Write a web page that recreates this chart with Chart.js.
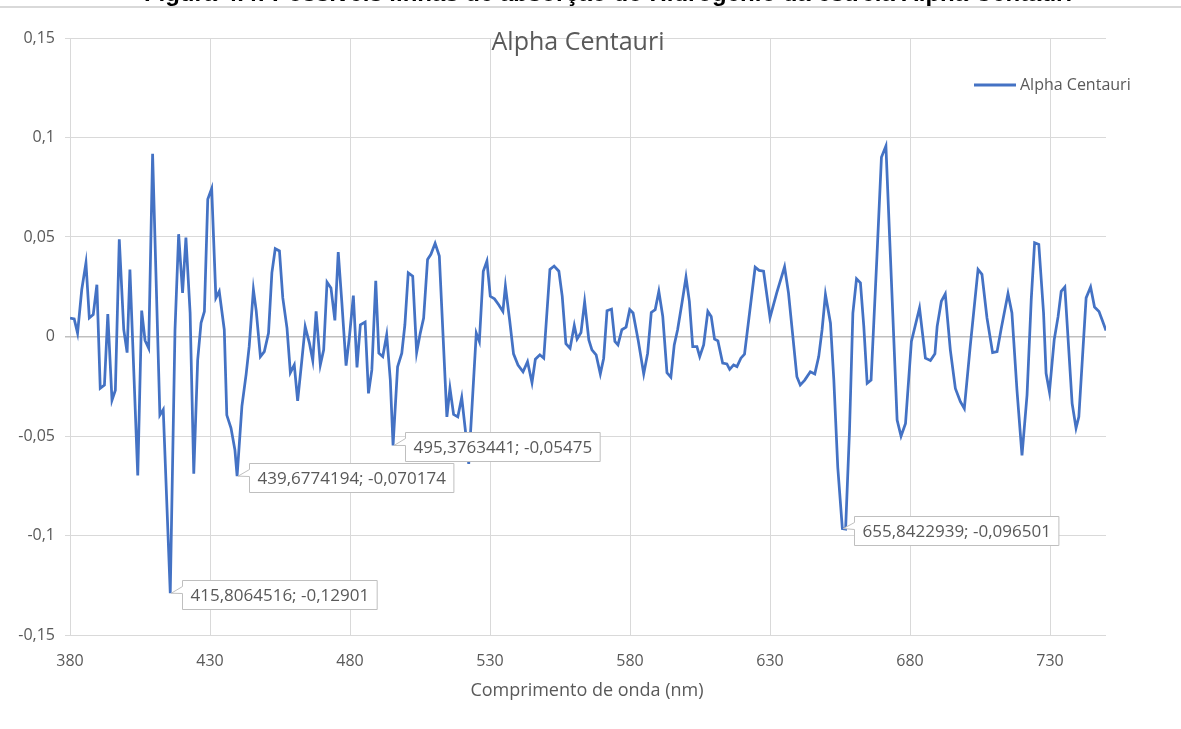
<!DOCTYPE html>
<html>
<head>
<meta charset="utf-8">
<script src="https://cdn.jsdelivr.net/npm/chart.js@4.4.0/dist/chart.umd.min.js"></script>
<style>
html, body { margin: 0; padding: 0; background: #fff; }
#wrap { position: relative; width: 1181px; height: 729px; }
</style>
</head>
<body>
<div id="wrap"><canvas id="spectrum_chart" width="1181" height="729"></canvas></div>
<script>
// wavelength (nm) and relative intensity
const wavelength = [
	380, 381.5, 382.7, 384.2, 385.7, 386.9, 388.3, 389.6, 390.8, 392.3,
	393.5, 395, 396.2, 397.6, 399.2, 400.4, 401.4, 404.2, 405.6, 406.8,
	408.1, 409.5, 412.1, 413.3, 415.8064516, 417.5, 418.8, 420.2, 421.4, 422.9,
	424.2, 425.6, 426.8, 428, 429.2, 430.6, 432.1, 433.3, 435.1, 436,
	437.5, 438.9, 439.6774194, 441.4, 442.9, 444, 445.5, 446.5, 448, 449.4,
	450.9, 452.1, 453.3, 454.8, 456, 457.5, 458.7, 460.1, 461.3, 462.7,
	464, 465.5, 466.7, 467.9, 469.4, 470.6, 471.8, 473.2, 474.6, 475.8,
	477.1, 478.6, 479.8, 481.2, 482.5, 483.7, 485.4, 486.6, 487.8, 489.2,
	490.3, 491.7, 493.1, 494.4, 495.3763441, 497, 498.5, 499.6, 500.8, 502.4,
	503.8, 505.1, 506.3, 507.7, 508.9, 510.4, 511.9, 514.6, 515.7, 517,
	518.5, 519.9, 521.2, 522.4, 525.1, 526.2, 527.6, 528.9, 530.1, 531.6,
	533.1, 534.6, 535.5, 537, 538.4, 540, 541.8, 543.4, 545, 546.2,
	547.8, 549.2, 551.4, 552.9, 554.6, 555.8, 557.1, 558.6, 560.1, 561.1,
	562.5, 563.8, 565.3, 566.4, 567.9, 569.4, 570.6, 571.8, 573.4, 574.6,
	575.7, 577.1, 578.6, 579.9, 581.1, 582.9, 584.9, 586.3, 587.6, 589,
	590.3, 591.7, 593.2, 594.6, 595.8, 597, 598.6, 600, 601.2, 602.4,
	603.9, 604.9, 606.3, 607.8, 609, 610.2, 611.4, 613.1, 614.6, 615.6,
	617, 618.2, 619.6, 620.9, 624.7, 626.1, 627.7, 630, 632.4, 635.2,
	636.6, 639.6, 640.8, 642.4, 644.4, 646, 647.4, 648.6, 649.8, 651.6,
	652.8, 654.2, 655.8422939, 657, 658.4, 659.6, 660.9, 662.3, 663.5, 664.7,
	666.1, 668.2, 669.8, 671.4, 673, 675.4, 676.8, 678.4, 680.5, 683.4,
	685.5, 687.3, 688.9, 689.7, 691.2, 692.6, 694.4, 696.2, 698, 699.4,
	701.5, 704.3, 705.7, 707.5, 709.5, 711.1, 712.6, 715, 716.4, 718.2,
	720, 721.8, 723.3, 724.5, 726, 727.7, 728.6, 729.8, 731.5, 732.9,
	734, 735.3, 737.9, 739.3, 740.3, 742.9, 744.5, 745.9, 747.5, 748.6,
	750
];
const intensity = [
	0.0093, 0.0088, 0.0017, 0.0236, 0.037, 0.0093, 0.011, 0.026, -0.026, -0.0244,
	0.0113, -0.032, -0.027, 0.0488, 0.0034, -0.0081, 0.0337, -0.0698, 0.013, -0.002,
	-0.0059, 0.0918, -0.0395, -0.0367, -0.12901, 0.0034, 0.0514, 0.0219, 0.0497, 0.0118,
	-0.069, -0.0118, 0.0068, 0.0126, 0.069, 0.0744, 0.0194, 0.0227, 0.0034, -0.0395,
	-0.046, -0.057, -0.070174, -0.035, -0.019, -0.005, 0.0236, 0.013, -0.0101, -0.0076,
	0.0017, 0.032, 0.0441, 0.043, 0.0194, 0.0042, -0.0182, -0.0143, -0.0323, -0.0134,
	0.005, -0.0033, -0.0121, 0.0126, -0.0143, -0.0067, 0.0273, 0.0244, 0.0081, 0.0424,
	0.0169, -0.0146, 0, 0.0206, -0.0155, 0.0059, 0.0073, -0.0286, -0.0168, 0.028,
	-0.0084, -0.0101, 0.0008, -0.0219, -0.05475, -0.0152, -0.0084, 0.0059, 0.032, 0.0303,
	-0.0081, 0.0017, 0.0093, 0.0387, 0.0413, 0.0468, 0.0404, -0.0404, -0.026, -0.0392,
	-0.0404, -0.0306, -0.0471, -0.064, 0.0017, -0.0025, 0.0328, 0.0379, 0.0202, 0.0189,
	0.016, 0.0126, 0.0253, 0.0084, -0.0087, -0.0143, -0.0177, -0.0126, -0.0232, -0.0114,
	-0.0092, -0.0109, 0.0337, 0.0354, 0.0328, 0.0202, -0.0036, -0.0059, 0.0056, -0.0013,
	0.002, 0.0174, -0.0017, -0.0067, -0.0092, -0.0188, -0.0109, 0.013, 0.0138, -0.0025,
	-0.0042, 0.0034, 0.0047, 0.0135, 0.0118, -0.0017, -0.0188, -0.0084, 0.0121, 0.0135,
	0.0227, 0.0101, -0.0182, -0.0205, -0.0042, 0.0034, 0.0172, 0.0298, 0.0177, -0.0051,
	-0.0051, -0.0101, -0.0042, 0.0126, 0.0101, -0.0013, -0.0022, -0.0134, -0.0138, -0.0165,
	-0.0143, -0.0151, -0.0109, -0.0089, 0.0348, 0.0332, 0.0328, 0.0095, 0.0219, 0.035,
	0.0219, -0.0202, -0.0244, -0.0219, -0.0177, -0.0188, -0.0101, 0.0034, 0.0211, 0.0067,
	-0.0219, -0.0657, -0.096501, -0.0968, -0.0471, 0.0118, 0.029, 0.027, 0.0051, -0.0235,
	-0.0219, 0.0404, 0.0901, 0.0957, 0.0404, -0.042, -0.0501, -0.0437, -0.0025, 0.0143,
	-0.0109, -0.0121, -0.0087, 0.0051, 0.0177, 0.0214, -0.0067, -0.0261, -0.0328, -0.0362,
	-0.0051, 0.0337, 0.0312, 0.0093, -0.0081, -0.0076, 0.0042, 0.0216, 0.0118, -0.0269,
	-0.0597, -0.0294, 0.0185, 0.0471, 0.0463, 0.0118, -0.0185, -0.0278, -0.0017, 0.0101,
	0.0227, 0.0249, -0.0336, -0.046, -0.0404, 0.0194, 0.0249, 0.0148, 0.0126, 0.0084,
	0.003
];
const xTicks = [380, 430, 480, 530, 580, 630, 680, 730];
const yTicks = [-0.15, -0.1, -0.05, 0, 0.05, 0.1, 0.15];
const marked = [415.8064516, 439.6774194, 495.3763441, 655.8422939];

const seriesName = 'Alpha Centauri';
const chartTitle = 'Alpha Centauri';
const xTitle = 'Comprimento de onda (nm)';
const caption = 'Figura 4.4: Possíveis linhas de absorção do Hidrogênio da estrela Alpha Centauri';

const FONT = "'Open Sans', 'Noto Sans', sans-serif";
const TXT = '#595959';
const BLUE = '#4472C4';

function br(v) {
	return String(v).replace('.', ',');
}

// header, title, legend, axis title and the data callouts
const decor = {
	id: 'decor',
	afterDraw(chart) {
		const c = chart.ctx;
		const xs = chart.scales.x, ys = chart.scales.y;
		c.save();

		// cut-off caption of the document above the chart
		c.fillStyle = '#000';
		c.font = "bold 24px 'Liberation Sans', Arial, sans-serif";
		c.textAlign = 'center';
		c.textBaseline = 'alphabetic';
		c.fillText(caption, 608, 1);
		c.fillStyle = '#d9d9d9';
		c.fillRect(0, 6, 1181, 2);

		// chart title
		c.fillStyle = TXT;
		c.font = '25px ' + FONT;
		c.textBaseline = 'middle';
		c.fillText(chartTitle, 578, 43);

		// axis title
		c.font = '18px ' + FONT;
		c.fillText(xTitle, 587, 691);

		// legend
		c.strokeStyle = BLUE;
		c.lineWidth = 3;
		c.beginPath();
		c.moveTo(974, 85);
		c.lineTo(1016, 85);
		c.stroke();
		c.textAlign = 'left';
		c.font = '16px ' + FONT;
		c.fillText(seriesName, 1020, 85);

		// callouts
		c.font = '17px ' + FONT;
		marked.forEach(function(wx) {
			const i = wavelength.indexOf(wx);
			const val = intensity[i];
			const px = xs.getPixelForValue(wx);
			const py = ys.getPixelForValue(val);
			const text = br(wx) + '; ' + br(val);
			const w = c.measureText(text).width + 16;
			const h = 29;
			const left = Math.round(px + 12) + 0.5;
			const top = Math.round(py - 13) + 0.5;
			c.fillStyle = '#fff';
			c.strokeStyle = '#bfbfbf';
			c.lineWidth = 1;
			c.beginPath();
			c.moveTo(left, top);
			c.lineTo(left + w, top);
			c.lineTo(left + w, top + h);
			c.lineTo(left, top + h);
			c.lineTo(left, top + 13);
			c.lineTo(px + 1, py);
			c.lineTo(left, top + 6);
			c.closePath();
			c.fill();
			c.stroke();
			c.fillStyle = TXT;
			c.textBaseline = 'middle';
			c.fillText(text, left + 8, top + h / 2 + 1);
		});
		c.restore();
	}
};

const config = {
	type: 'line',
	data: {
		datasets: [{
			label: seriesName,
			data: wavelength.map((x, i) => ({ x: x, y: intensity[i] })),
			borderColor: BLUE,
			backgroundColor: BLUE,
			borderWidth: 2.75,
			pointRadius: 0,
			tension: 0,
			fill: false
		}]
	},
	options: {
		responsive: false,
		animation: false,
		devicePixelRatio: 1,
		layout: { padding: { left: 0, top: 38, right: 75, bottom: 0 } },
		scales: {
			x: {
				type: 'linear',
				min: 380,
				max: 750,
				afterBuildTicks: function(scale) {
					scale.ticks = xTicks.map(v => ({ value: v }));
				},
				afterFit: function(scale) {
					scale.height = 94;
				},
				grid: { color: '#d9d9d9', lineWidth: 1, drawTicks: false },
				border: { display: false },
				ticks: {
					padding: 17,
					color: TXT,
					font: { family: FONT, size: 16 },
					maxRotation: 0,
					callback: v => String(v)
				}
			},
			y: {
				type: 'linear',
				min: -0.15,
				max: 0.15,
				afterBuildTicks: function(scale) {
					scale.ticks = yTicks.map(v => ({ value: v }));
				},
				afterFit: function(scale) {
					scale.width = 70;
				},
				grid: {
					color: ctx => (ctx.tick && ctx.tick.value === 0) ? '#bfbfbf' : '#d9d9d9',
					lineWidth: ctx => (ctx.tick && ctx.tick.value === 0) ? 1.5 : 1,
					tickLength: 5
				},
				border: { display: false },
				ticks: {
					padding: 10,
					color: TXT,
					font: { family: FONT, size: 16 },
					callback: v => br(Math.round(v * 100) / 100)
				}
			}
		},
		plugins: {
			legend: { display: false },
			title: { display: false },
			tooltip: { enabled: false }
		}
	},
	plugins: [decor]
};

var cv = document.getElementById('spectrum_chart');
var ctx = cv.getContext('2d');
var chart = new Chart(ctx, config);
</script>
</body>
</html>
